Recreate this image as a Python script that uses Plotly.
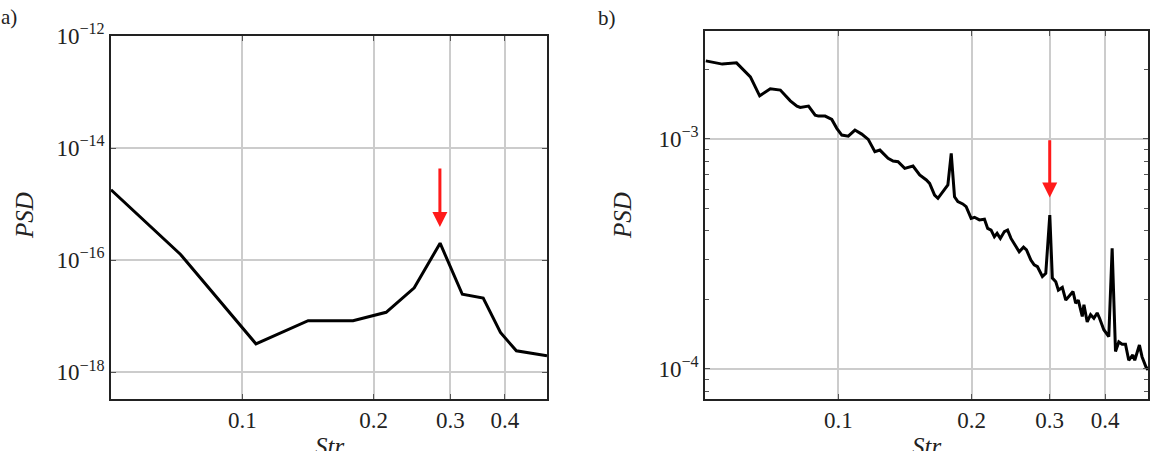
import math
import plotly.graph_objects as go

# ---------------- data ----------------
# panel a)
str_a = [0.05, 0.0722, 0.1075, 0.1416, 0.1795, 0.2138, 0.248, 0.2843, 0.3197,
         0.357, 0.391, 0.4253, 0.5]
psd_a = [1.8e-15, 1.26e-16, 3.2e-18, 8.3e-18, 8.3e-18, 1.17e-17, 3.2e-17, 2.0e-16,
         2.45e-17, 2.1e-17, 5.1e-18, 2.4e-18, 1.95e-18]

# panel b)
str_b = [0.0502, 0.05237, 0.0547, 0.0589, 0.06117, 0.0633, 0.06643, 0.06842, 0.07021,
         0.07396, 0.0779, 0.08064, 0.08203, 0.08564, 0.08865, 0.09018, 0.09335, 0.09665,
         0.09918, 0.1018, 0.1053, 0.109, 0.1129, 0.1168, 0.1209, 0.1241, 0.1295, 0.1329,
         0.1364, 0.1412, 0.1474, 0.1526, 0.158, 0.1607, 0.1649, 0.1678, 0.1737, 0.1767,
         0.1798, 0.1829, 0.1861, 0.1909, 0.1943, 0.1994, 0.2029, 0.2082, 0.2137, 0.2173,
         0.2212, 0.225, 0.2282, 0.2321, 0.237, 0.241, 0.2453, 0.2517, 0.256, 0.2618,
         0.2659, 0.272, 0.2767, 0.2815, 0.2888, 0.2939, 0.3001, 0.3041, 0.3096, 0.3138,
         0.3203, 0.3261, 0.3317, 0.3386, 0.3433, 0.348, 0.3553, 0.3584, 0.3645, 0.371,
         0.3774, 0.3839, 0.3887, 0.3974, 0.4078, 0.415, 0.4223, 0.4296, 0.437, 0.4448,
         0.4524, 0.4619, 0.4667, 0.4782, 0.4847, 0.4948, 0.5]
psd_b = [2.181e-3, 2.146e-3, 2.111e-3, 2.138e-3, 1.987e-3, 1.858e-3, 1.537e-3, 1.600e-3,
         1.649e-3, 1.628e-3, 1.462e-3, 1.387e-3, 1.369e-3, 1.387e-3, 1.267e-3, 1.255e-3,
         1.255e-3, 1.214e-3, 1.110e-3, 1.038e-3, 1.027e-3, 1.091e-3, 1.048e-3, 9.94e-4,
         8.78e-4, 8.93e-4, 8.22e-4, 8.00e-4, 7.95e-4, 7.44e-4, 7.61e-4, 6.96e-4, 6.62e-4,
         6.40e-4, 5.69e-4, 5.51e-4, 5.99e-4, 6.30e-4, 8.64e-4, 5.60e-4, 5.33e-4, 5.21e-4,
         5.07e-4, 4.51e-4, 4.56e-4, 4.44e-4, 4.47e-4, 4.08e-4, 4.01e-4, 3.75e-4, 3.88e-4,
         3.69e-4, 3.95e-4, 4.01e-4, 3.69e-4, 3.40e-4, 3.23e-4, 3.38e-4, 3.29e-4, 2.97e-4,
         2.83e-4, 2.78e-4, 2.52e-4, 2.60e-4, 4.66e-4, 2.48e-4, 2.39e-4, 2.20e-4, 2.26e-4,
         1.99e-4, 2.06e-4, 2.17e-4, 1.93e-4, 1.99e-4, 1.69e-4, 1.90e-4, 1.60e-4, 1.72e-4,
         1.66e-4, 1.75e-4, 1.66e-4, 1.48e-4, 1.38e-4, 3.34e-4, 1.19e-4, 1.31e-4, 1.28e-4,
         1.28e-4, 1.09e-4, 1.15e-4, 1.09e-4, 1.27e-4, 1.13e-4, 1.02e-4, 0.99e-4]

# ticks
x_tickvals = [0.1, 0.2, 0.3, 0.4]
x_ticktext = ["0.1", "0.2", "0.3", "0.4"]
ya_tickvals = [1e-18, 1e-16, 1e-14, 1e-12]
ya_ticktext = ["10<sup>−18</sup>", "10<sup>−16</sup>", "10<sup>−14</sup>", "10<sup>−12</sup>"]
yb_tickvals = [1e-4, 1e-3]
yb_ticktext = ["10<sup>−4</sup>", "10<sup>−3</sup>"]
yb_minor = [8e-5, 9e-5, 2e-4, 3e-4, 4e-4, 5e-4, 6e-4, 7e-4, 8e-4, 9e-4, 2e-3]

# arrows (Str, PSD tail, PSD tip)
arrow_a = (0.284, 4.6e-15, 3.9e-16)
arrow_b = (0.300, 1.0e-3, 5.56e-4)

x_range = [0.05, 0.5]
ya_range = [1e-18 / 10 ** 0.48, 1e-12]
yb_range = [7.4e-5, 2.94e-3]

# ---------------- figure ----------------
W, H = 1152, 451
FONT = "Liberation Serif"
GRID = "#cccccc"
AX = "#222222"

fig = go.Figure()
fig.add_trace(go.Scatter(x=str_a, y=psd_a, mode="lines", xaxis="x", yaxis="y",
                         line=dict(color="black", width=3), showlegend=False))
fig.add_trace(go.Scatter(x=str_b, y=psd_b, mode="lines", xaxis="x2", yaxis="y2",
                         line=dict(color="black", width=3), showlegend=False))


def px(v):
    return v / W


def py(v):
    return 1 - v / H


common_x = dict(type="log", range=[math.log10(x_range[0]), math.log10(x_range[1])],
                tickvals=x_tickvals, ticktext=x_ticktext, showgrid=True,
                gridcolor=GRID, gridwidth=1.5, showline=True, linecolor=AX,
                linewidth=1.5, mirror="ticks", ticks="inside", ticklen=5,
                tickcolor="#555555", zeroline=False, automargin=False,
                tickfont=dict(family=FONT, size=23, color="#222222"))
common_y = dict(type="log", showgrid=True, gridcolor=GRID, gridwidth=1.5,
                showline=True, linecolor=AX, linewidth=1.5, mirror="ticks",
                ticks="inside", ticklen=5, tickcolor="#555555", zeroline=False,
                automargin=False,
                tickfont=dict(family=FONT, size=23, color="#222222"))

fig.update_layout(
    width=W, height=H, margin=dict(l=0, r=0, t=0, b=0, autoexpand=False),
    paper_bgcolor="white", plot_bgcolor="white",
    xaxis=dict(common_x, domain=[px(111), px(547)], anchor="y"),
    yaxis=dict(common_y, domain=[py(399), py(36)], anchor="x",
               range=[math.log10(ya_range[0]), math.log10(ya_range[1])],
               tickvals=ya_tickvals, ticktext=ya_ticktext),
    xaxis2=dict(common_x, domain=[px(705), px(1148)], anchor="y2"),
    yaxis2=dict(common_y, domain=[py(399), py(31)], anchor="x2",
                range=[math.log10(yb_range[0]), math.log10(yb_range[1])],
                tickvals=yb_tickvals, ticktext=yb_ticktext,
                minor=dict(tickvals=yb_minor, ticks="inside", ticklen=4,
                           tickcolor="#555555", showgrid=False)),
)

ann = []
for (xa, ya, arr) in [("x", "y", arrow_a), ("x2", "y2", arrow_b)]:
    s, tail, tip = arr
    ann.append(dict(x=math.log10(s), y=math.log10(tip), xref=xa, yref=ya,
                    ax=math.log10(s), ay=math.log10(tail), axref=xa, ayref=ya,
                    text="", showarrow=True, arrowhead=2, arrowsize=1.0,
                    arrowwidth=3, arrowcolor="#ff1a1a", standoff=0))

lab_font = dict(family=FONT, size=25, color="#222222")
ann += [
    dict(text="<i>Str</i>", x=px(329), y=py(431), xref="paper", yref="paper",
         xanchor="center", yanchor="top", showarrow=False, font=lab_font),
    dict(text="<i>Str</i>", x=px(926), y=py(431), xref="paper", yref="paper",
         xanchor="center", yanchor="top", showarrow=False, font=lab_font),
    dict(text="<i>PSD</i>", x=px(24), y=py(216), xref="paper", yref="paper",
         xanchor="center", yanchor="middle", textangle=-90, showarrow=False,
         font=lab_font),
    dict(text="<i>PSD</i>", x=px(622), y=py(216), xref="paper", yref="paper",
         xanchor="center", yanchor="middle", textangle=-90, showarrow=False,
         font=lab_font),
    dict(text="a)", x=px(-1), y=py(17), xref="paper", yref="paper",
         xanchor="left", yanchor="middle", showarrow=False,
         font=dict(family=FONT, size=21, color="#222222")),
    dict(text="b)", x=px(596), y=py(18), xref="paper", yref="paper",
         xanchor="left", yanchor="middle", showarrow=False,
         font=dict(family=FONT, size=21, color="#222222")),
]
fig.update_layout(annotations=ann)

fig.write_html("out.html")
